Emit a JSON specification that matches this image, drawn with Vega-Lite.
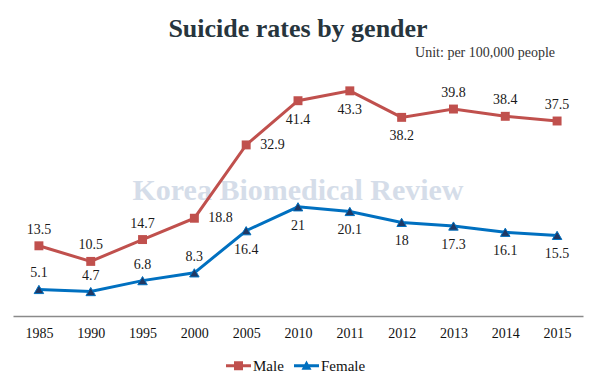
{
  "$schema": "https://vega.github.io/schema/vega-lite/v6.json",
  "autosize": {"type": "none"},
  "width": 570,
  "height": 260,
  "padding": {"left": 13, "top": 56, "right": 14, "bottom": 63},
  "background": "white",
  "title": {
    "text": "Suicide rates by gender",
    "font": "Liberation Serif",
    "fontSize": 26,
    "fontWeight": "bold",
    "color": "#27353d",
    "anchor": "middle",
    "offset": 4
  },
  "config": {
    "view": {"stroke": null},
    "axis": {"grid": false}
  },
  "data": {
    "values": [
      {"year": "1985", "series": "Male", "value": 13.5},
      {"year": "1990", "series": "Male", "value": 10.5},
      {"year": "1995", "series": "Male", "value": 14.7},
      {"year": "2000", "series": "Male", "value": 18.8},
      {"year": "2005", "series": "Male", "value": 32.9},
      {"year": "2010", "series": "Male", "value": 41.4},
      {"year": "2011", "series": "Male", "value": 43.3},
      {"year": "2012", "series": "Male", "value": 38.2},
      {"year": "2013", "series": "Male", "value": 39.8},
      {"year": "2014", "series": "Male", "value": 38.4},
      {"year": "2015", "series": "Male", "value": 37.5},
      {"year": "1985", "series": "Female", "value": 5.1},
      {"year": "1990", "series": "Female", "value": 4.7},
      {"year": "1995", "series": "Female", "value": 6.8},
      {"year": "2000", "series": "Female", "value": 8.3},
      {"year": "2005", "series": "Female", "value": 16.4},
      {"year": "2010", "series": "Female", "value": 21},
      {"year": "2011", "series": "Female", "value": 20.1},
      {"year": "2012", "series": "Female", "value": 18},
      {"year": "2013", "series": "Female", "value": 17.3},
      {"year": "2014", "series": "Female", "value": 16.1},
      {"year": "2015", "series": "Female", "value": 15.5}
    ]
  },
  "encoding": {
    "x": {
      "field": "year",
      "type": "ordinal",
      "scale": {"type": "point", "padding": 0.5},
      "axis": {
        "title": null,
        "labelAngle": 0,
        "ticks": false,
        "domainColor": "#8a8a8a",
        "domainWidth": 1.5,
        "labelFont": "Liberation Serif",
        "labelFontSize": 14,
        "labelColor": "#111111",
        "labelPadding": 10
      }
    },
    "y": {
      "field": "value",
      "type": "quantitative",
      "scale": {"domain": [0, 50], "nice": false, "zero": true},
      "axis": null
    }
  },
  "layer": [
    {
      "transform": [{"filter": "datum.year === '2010' && datum.series === 'Male'"}],
      "mark": {"type": "text", "font": "Liberation Serif", "fontSize": 30, "fontWeight": "bold", "color": "#d5dde9", "baseline": "middle", "align": "center"},
      "encoding": {
        "x": {"datum": "2010"},
        "y": {"datum": 24},
        "text": {"value": "Korea Biomedical Review"}
      }
    },
    {
      "transform": [{"filter": "datum.year === '2015' && datum.series === 'Male'"}],
      "mark": {"type": "text", "font": "Liberation Serif", "fontSize": 14, "color": "#333333", "baseline": "middle", "align": "right", "dx": -2},
      "encoding": {
        "x": {"datum": "2015"},
        "y": {"datum": 50.5},
        "text": {"value": "Unit: per 100,000 people"}
      }
    },
    {
      "mark": {"type": "line", "strokeWidth": 3},
      "encoding": {
        "color": {
          "field": "series",
          "type": "nominal",
          "scale": {"domain": ["Male", "Female"], "range": ["#c0504d", "#0070c0"]},
          "legend": {
            "orient": "none",
            "legendX": 213,
            "legendY": 297,
            "direction": "horizontal",
            "title": null,
            "labelFont": "Liberation Serif",
            "labelFontSize": 15,
            "labelColor": "#111111",
            "symbolSize": 625,
            "labelOffset": 2,
            "columnPadding": 10,
            "encode": {
              "symbols": {
                "update": {
                  "shape": {"signal": "datum.value === 'Male' ? 'M-1,-0.12H1V0.12H-1Z M-0.36,-0.36H0.36V0.36H-0.36Z' : 'M-1,-0.12H1V0.12H-1Z M0,-0.42L0.4,0.32H-0.4Z'"},
                  "fill": {"scale": "color", "field": "value"},
                  "stroke": {"value": "transparent"},
                  "strokeWidth": {"value": 0},
                  "opacity": {"value": 1}
                }
              }
            }
          }
        }
      }
    },
    {
      "transform": [{"filter": "datum.series === 'Male'"}],
      "mark": {"type": "point", "shape": "square", "filled": true, "size": 80, "color": "#c0504d", "opacity": 1}
    },
    {
      "transform": [{"filter": "datum.series === 'Female'"}],
      "mark": {"type": "point", "shape": "triangle-up", "filled": true, "size": 90, "fill": "#1f3864", "stroke": "#0070c0", "strokeWidth": 1, "opacity": 1}
    },
    {
      "transform": [{"filter": "(datum.series === 'Male' && indexof(['1985','1990','1995','2013','2014','2015'], datum.year) >= 0) || (datum.series === 'Female' && indexof(['1985','1990','1995','2000'], datum.year) >= 0)"}],
      "mark": {"type": "text", "font": "Liberation Serif", "fontSize": 14, "color": "#1a1a1a", "baseline": "middle", "align": "center", "dy": -16},
      "encoding": {"text": {"field": "value", "type": "quantitative"}}
    },
    {
      "transform": [{"filter": "(datum.series === 'Male' && indexof(['2010','2011','2012'], datum.year) >= 0) || (datum.series === 'Female' && indexof(['2005','2010','2011','2012','2013','2014','2015'], datum.year) >= 0)"}],
      "mark": {"type": "text", "font": "Liberation Serif", "fontSize": 14, "color": "#1a1a1a", "baseline": "middle", "align": "center", "dy": 19},
      "encoding": {"text": {"field": "value", "type": "quantitative"}}
    },
    {
      "transform": [{"filter": "datum.series === 'Male' && indexof(['2000','2005'], datum.year) >= 0"}],
      "mark": {"type": "text", "font": "Liberation Serif", "fontSize": 14, "color": "#1a1a1a", "baseline": "middle", "align": "left", "dx": 14},
      "encoding": {"text": {"field": "value", "type": "quantitative"}}
    }
  ]
}
